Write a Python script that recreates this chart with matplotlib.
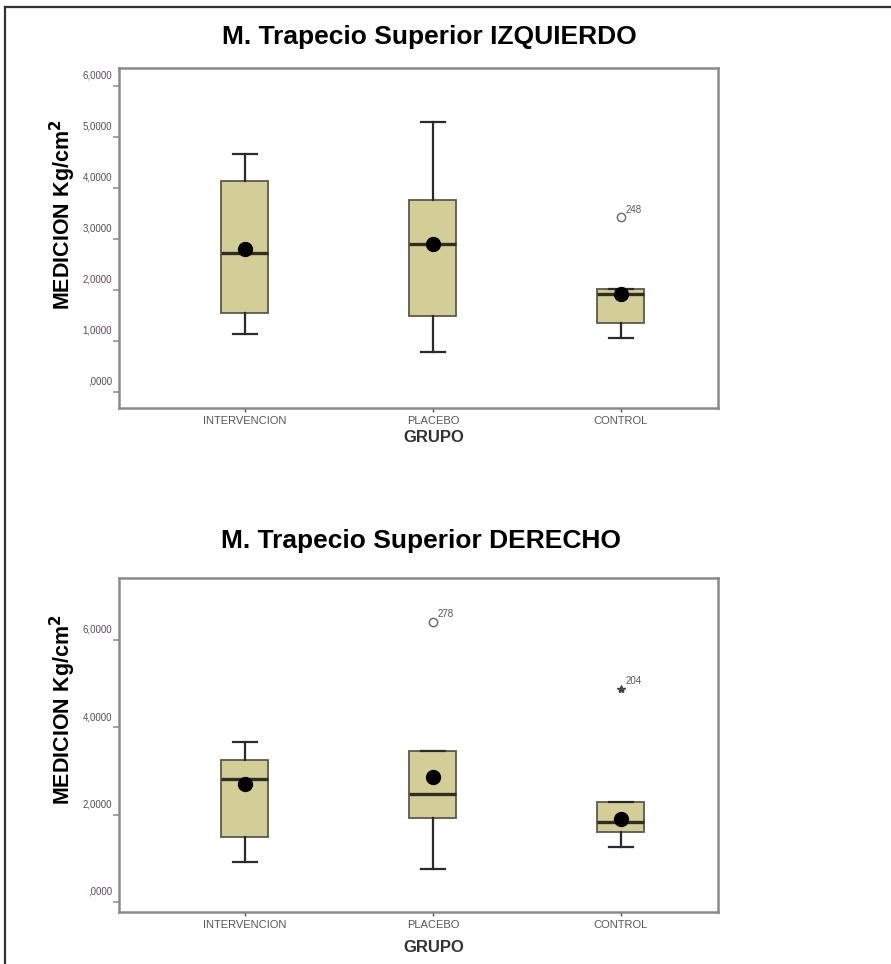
import matplotlib
matplotlib.use('Agg')
import matplotlib.pyplot as plt
from matplotlib import font_manager
from matplotlib.font_manager import FontProperties
from matplotlib.transforms import ScaledTranslation
from matplotlib.lines import Line2D

groups = ['INTERVENCION', 'PLACEBO', 'CONTROL']

# M. Trapecio Superior IZQUIERDO
izq_whislo = [1.14, 0.77, 1.06]
izq_q1 = [1.55, 1.48, 1.35]
izq_med = [2.72, 2.89, 1.91]
izq_q3 = [4.13, 3.76, 2.02]
izq_whishi = [4.67, 5.29, 2.02]
izq_mean = [2.79, 2.89, 1.91]
izq_out_group = [2]
izq_out_value = [3.42]
izq_out_label = ['248']
izq_out_marker = ['o']
izq_ticks = [0, 1, 2, 3, 4, 5, 6]

# M. Trapecio Superior DERECHO
der_whislo = [0.92, 0.76, 1.25]
der_q1 = [1.49, 1.93, 1.60]
der_med = [2.81, 2.47, 1.82]
der_q3 = [3.25, 3.46, 2.28]
der_whishi = [3.67, 3.46, 2.28]
der_mean = [2.70, 2.87, 1.91]
der_out_group = [1, 2]
der_out_value = [6.42, 4.88]
der_out_label = ['278', '204']
der_out_marker = ['o', '*']
der_ticks = [0, 2, 4, 6]


def pick(families):
    for f in families:
        try:
            font_manager.findfont(FontProperties(family=f), fallback_to_default=False)
            return f
        except Exception:
            pass
    return 'DejaVu Sans'


narrow = pick(['Liberation Sans Narrow'])
sans = pick(['Liberation Sans', 'Arial'])
title_size = 21 if narrow == 'Liberation Sans Narrow' else 19
title_family = narrow if narrow == 'Liberation Sans Narrow' else sans

plt.rcParams['font.family'] = [sans, 'DejaVu Sans']

W, H = 891, 964
fig = plt.figure(figsize=(W / 100, H / 100), dpi=100)
fig.patch.set_facecolor('white')

# page frame
fig.add_artist(Line2D([5 / W, 1], [1 - 7 / H, 1 - 7 / H], color='#333333', lw=1.6))
fig.add_artist(Line2D([5 / W, 5 / W], [0, 1 - 7 / H], color='#333333', lw=1.6))

BOX_FILL = '#d3ce97'


def panel(rect, title, title_xy, ylabel_xy, grupo_y, ylim, ticks,
          whislo, q1, med, q3, whishi, mean,
          out_group, out_value, out_label, out_marker):
    ax = fig.add_axes(rect)
    stats = []
    for i in range(len(groups)):
        stats.append(dict(whislo=whislo[i], q1=q1[i], med=med[i], q3=q3[i],
                          whishi=whishi[i], mean=mean[i], fliers=[]))
    pos = list(range(len(groups)))
    ax.bxp(stats, positions=pos, widths=0.25, patch_artist=True,
           showfliers=False, showmeans=False,
           boxprops=dict(facecolor=BOX_FILL, edgecolor='#5a5a50', linewidth=1.3),
           medianprops=dict(color='#2e2e25', linewidth=2.4),
           whiskerprops=dict(color='#2a2a2a', linewidth=1.6),
           capprops=dict(color='#2a2a2a', linewidth=1.6))
    ax.plot(pos, mean, 'o', color='black', markersize=10, zorder=5)

    for g, v, lab, m in zip(out_group, out_value, out_label, out_marker):
        if m == 'o':
            ax.plot([g], [v], marker='o', markersize=6, markerfacecolor='none',
                    markeredgecolor='#666666', markeredgewidth=1.0, linestyle='none')
        else:
            ax.plot([g], [v], marker='*', markersize=6, color='#444444',
                    linestyle='none')
        ax.annotate(lab, (g, v), xytext=(3, 2), textcoords='offset points',
                    fontsize=7, color='#555555', ha='left', va='bottom')

    ax.set_xlim(-0.67, 2.516)
    ax.set_ylim(*ylim)
    ax.set_xticks(pos)
    ax.set_xticklabels(groups, fontsize=8, color='#555555')
    ax.set_yticks(ticks)
    ax.set_yticklabels([('%.4f' % t).replace('.', ',').lstrip('0') if t == 0
                        else ('%.4f' % t).replace('.', ',') for t in ticks],
                       fontsize=7, color='#5b4b55')
    ax.tick_params(axis='y', direction='out', length=4, width=1.1,
                   color='#8a8a8a', pad=1)
    ax.tick_params(axis='x', direction='out', length=3, width=1.0,
                   color='#555555', pad=3)
    off = ScaledTranslation(0, 5 / 100, fig.dpi_scale_trans)
    for lbl in ax.get_yticklabels():
        lbl.set_verticalalignment('bottom')
        lbl.set_transform(lbl.get_transform() + off)
    for sp in ax.spines.values():
        sp.set_color('#8a8a8a')
        sp.set_linewidth(1.8)

    fig.text(title_xy[0] / W, 1 - title_xy[1] / H, title, ha='center', va='center',
             fontsize=title_size, fontweight='bold', family=title_family)
    fig.text(ylabel_xy[0] / W, 1 - ylabel_xy[1] / H, 'MEDICION Kg/cm$^\\mathbf{2}$',
             ha='center', va='center', rotation=90, fontsize=15.5, fontweight='bold')
    fig.text(434 / W, 1 - grupo_y / H, 'GRUPO', ha='center', va='center',
             fontsize=12, fontweight='bold', color='#333333')
    return ax


panel([119 / W, 1 - 408 / H, 599 / W, 340 / H],
      'M. Trapecio Superior IZQUIERDO', (429, 37), (63, 215), 438,
      (-0.32, 6.35), izq_ticks,
      izq_whislo, izq_q1, izq_med, izq_q3, izq_whishi, izq_mean,
      izq_out_group, izq_out_value, izq_out_label, izq_out_marker)

panel([119 / W, 1 - 912 / H, 599 / W, 334 / H],
      'M. Trapecio Superior DERECHO', (421, 541), (63, 710), 947,
      (-0.23, 7.42), der_ticks,
      der_whislo, der_q1, der_med, der_q3, der_whishi, der_mean,
      der_out_group, der_out_value, der_out_label, der_out_marker)

fig.savefig('out.png', dpi=100, facecolor='white')
